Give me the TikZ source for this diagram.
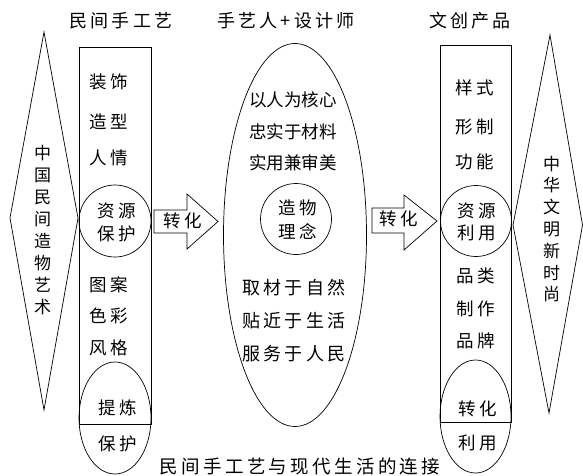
\documentclass[tikz,border=0pt]{standalone}
\usepackage{fontspec}
\setmainfont{Noto Sans CJK SC}
\newfontfamily\spacedfont{Noto Sans CJK SC}[LetterSpace=18]
\usetikzlibrary{calc}
\tikzset{>=latex}
\tikzset{
  lbl/.style={inner sep=0pt,font=\spacedfont\fontsize{17.5}{20}\selectfont},
  ttl/.style={inner sep=0pt,font=\spacedfont\fontsize{18}{20}\selectfont},
  tight/.style={inner sep=0pt,font=\fontsize{17.5}{20}\selectfont},
  vtext/.style={inner sep=0pt,align=center,text width=1em,font=\fontsize{17}{22}\selectfont}
}

\begin{document}
\begin{tikzpicture}[x=1pt,y=-1pt,line width=0.7pt]
  \useasboundingbox (0,0) rectangle (583,476);

  % Vertices
  \coordinate (ltop) at (44,32);
  \coordinate (lbot) at (44,410);
  \coordinate (lwest) at (10,218);
  \coordinate (least) at (78,218);
  \coordinate (rtop) at (550,35);
  \coordinate (rbot) at (549,413);
  \coordinate (rwest) at (513,225);
  \coordinate (reast) at (582.5,225);

  \coordinate (b1nw) at (79,47);
  \coordinate (b1se) at (151,424);
  \coordinate (b2nw) at (440,45);
  \coordinate (b2se) at (511,422);

  \coordinate (c1) at (115,221);
  \coordinate (c2) at (296,219);
  \coordinate (c3) at (476,221);
  \coordinate (e1) at (115,418);
  \coordinate (e2) at (295,235);
  \coordinate (e3) at (475.5,416.5);

  \coordinate (a1) at (154,210);
  \coordinate (a2) at (372,208);

  % Lines
  \draw (ltop) -- (least) -- (lbot) -- (lwest) -- cycle;
  \draw (rtop) -- (reast) -- (rbot) -- (rwest) -- cycle;
  \draw (b1nw) rectangle (b1se);
  \draw (b2nw) rectangle (b2se);
  \draw (e2) ellipse (71.5pt and 191.5pt);

  % Blobs
  \draw (c1) circle (36pt);
  \draw (c2) circle (35.5pt);
  \draw (c3) circle (35.5pt);
  \draw (e1) ellipse (36pt and 56pt);
  \draw (e3) ellipse (35.5pt and 56.5pt);

  % Arrows
  \draw (a1) -- ++(33,0) -- ++(0,-16) -- (218,221.5) -- (187,249)
    -- ++(0,-16) -- ++(-33,0) -- cycle;
  \draw (a2) -- ++(32,0) -- ++(0,-13) -- (437,221) -- (404,250)
    -- ++(0,-17) -- ++(-32,0) -- cycle;

  % Label
  \node[ttl] (h1) at (121,21) {民间手工艺};
  \node[ttl] (h2) at (286,21) {手艺人+设计师};
  \node[ttl] (h3) at (470,21) {文创产品};

  \node[vtext] (lv) at (39,230) {中\\国\\民\\间\\造\\物\\艺\\术};
  \node[vtext,font=\fontsize{17}{21.8}\selectfont] (rv) at (548,229) {中\\华\\文\\明\\新\\时\\尚};

  \node[lbl] (l1) at (109,82) {装饰};
  \node[lbl] (l2) at (109,122) {造型};
  \node[lbl] (l3) at (109,158) {人情};
  \node[lbl] (l4) at (117,211) {资源};
  \node[lbl] (l5) at (117,234) {保护};
  \node[lbl] (l6) at (109,285) {图案};
  \node[lbl] (l7) at (109,316) {色彩};
  \node[lbl] (l8) at (109,348) {风格};
  \node[lbl] (l9) at (118,408) {提炼};
  \node[lbl] (l10) at (118,444) {保护};

  \node[lbl] (k1) at (183,221) {转化};
  \node[lbl] (k2) at (399,219) {转化};

  \node[tight] (m1) at (293,100) {以人为核心};
  \node[tight] (m2) at (293,132) {忠实于材料};
  \node[tight] (m3) at (293,163) {实用兼审美};
  \node[lbl] (m4) at (298,208) {造物};
  \node[lbl] (m5) at (298,231) {理念};
  \node[ttl] (m6) at (294,288) {取材于自然};
  \node[ttl] (m7) at (294,321) {贴近于生活};
  \node[ttl] (m8) at (294,354) {服务于人民};

  \node[lbl] (r1) at (475,88) {样式};
  \node[lbl] (r2) at (475,127) {形制};
  \node[lbl] (r3) at (475,162) {功能};
  \node[lbl] (r4) at (477,211) {资源};
  \node[lbl] (r5) at (477,233) {利用};
  \node[lbl] (r6) at (476,276) {品类};
  \node[lbl] (r7) at (476,309) {制作};
  \node[lbl] (r8) at (476,341) {品牌};
  \node[lbl] (r9) at (478,409) {转化};
  \node[lbl] (r10) at (478,443) {利用};

  \node[inner sep=0pt,font=\spacedfont\fontsize{18.5}{20}\selectfont] (cap) at (300,466) {民间手工艺与现代生活的连接};
\end{tikzpicture}
\end{document}
